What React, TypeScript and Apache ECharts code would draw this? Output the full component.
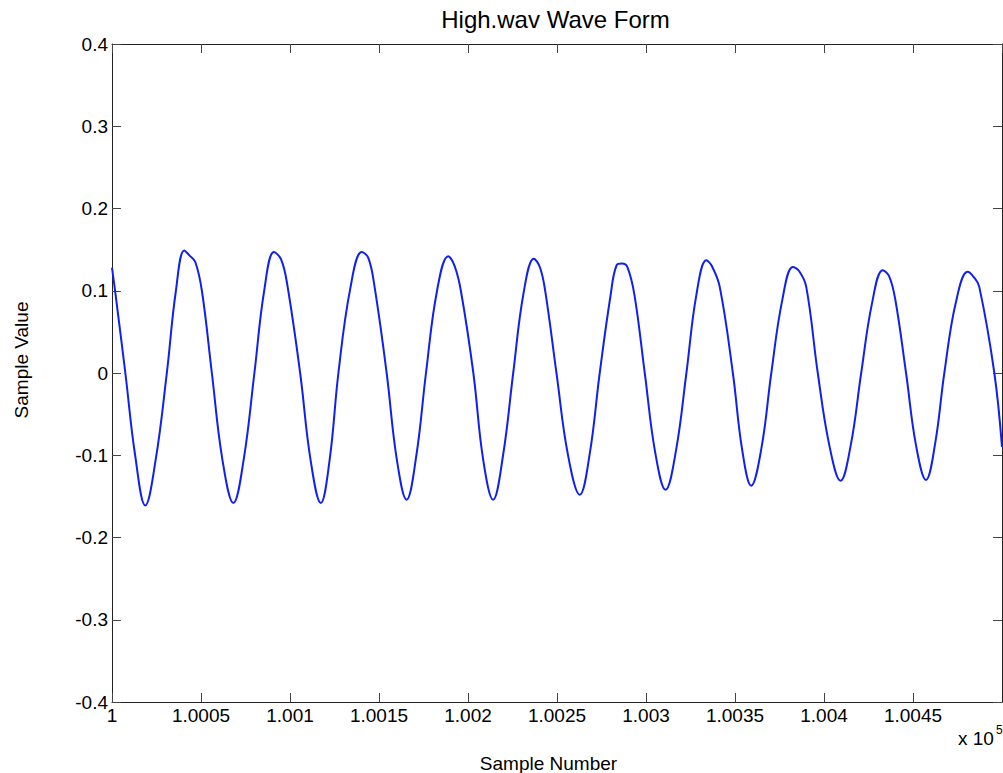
import React, { useEffect, useRef } from "react";
import * as echarts from "echarts";

const START_SAMPLE = 100000;
const END_SAMPLE = 100500;
const X_INTERVAL = 50;
const Y_MIN = -0.4;
const Y_MAX = 0.4;
const Y_INTERVAL = 0.1;

// sample offsets (from 100000) and sample values
const sampleOffsets = [
  0, 1.9, 7.5, 13, 18.7, 24.5, 30.8, 35.9, 40.6, 43.5, 46.8, 50.5, 56.1,
  62, 68.2, 74, 80, 85.5, 91, 95, 98.5, 105.7,
  111.5, 117.3, 122.3, 127.2, 133.8, 140.3, 144, 147.5, 154.3,
  160, 165.5, 171, 176.4, 182.6, 188.9, 192.5, 196, 203,
  208.5, 214.1, 219.7, 225.4, 231.2, 237, 240.5, 243.5, 249.7,
  256.2, 262.8, 268.4, 274, 280, 283.5, 286.5, 289.5, 293.5, 299.3,
  305.2, 311, 316.8, 322.7, 328.3, 333.9, 337, 341.4, 348.8,
  354, 359.1, 364.8, 370.4, 376.5, 382.5, 386, 390, 396.5,
  403, 409.3, 415, 420.9, 427, 433, 436.5, 440, 446.1,
  451.7, 457.3, 462.5, 467.6, 474, 480.7, 484, 487.2, 495.7, 500,
];
const sampleValues = [
  0.128, 0.097, 0, -0.1, -0.161, -0.106, 0, 0.1, 0.149, 0.143, 0.135, 0.1, 0,
  -0.105, -0.158, -0.105, 0, 0.1, 0.147, 0.138, 0.107, 0,
  -0.105, -0.158, -0.105, 0, 0.102, 0.147, 0.14, 0.105, 0,
  -0.105, -0.154, -0.1, 0, 0.1, 0.142, 0.13, 0.1, 0,
  -0.105, -0.154, -0.1, 0, 0.097, 0.139, 0.128, 0.098, 0,
  -0.1, -0.148, -0.098, 0, 0.093, 0.131, 0.133, 0.129, 0.095, 0,
  -0.097, -0.142, -0.095, 0, 0.095, 0.137, 0.13, 0.105, 0,
  -0.093, -0.137, -0.092, 0, 0.088, 0.129, 0.124, 0.105, 0,
  -0.088, -0.131, -0.088, 0, 0.085, 0.125, 0.118, 0.09, 0,
  -0.088, -0.13, -0.085, 0, 0.085, 0.123, 0.117, 0.105, 0, -0.09,
];

const TITLE = "High.wav Wave Form";
const X_NAME = "Sample Number";
const Y_NAME = "Sample Value";
const X_EXP_BASE = "x 10";
const X_EXP = "5";

const FONT = "'Liberation Sans', Arial, sans-serif";
const AXIS_COLOR = "#222";

export default function App() {
  const ref = useRef<HTMLDivElement>(null);
  useEffect(() => {
    if (!ref.current) return;
    const chart = echarts.init(ref.current, undefined, { renderer: "svg" });
    const data = sampleOffsets.map((o, i) => [START_SAMPLE + o, sampleValues[i]]);
    const xLabel = (v: number) =>
      v >= END_SAMPLE ? "" : String(Number((v / 1e5).toFixed(5)));
    const yLabel = (v: number) => String(Number(v.toFixed(1)));
    const axisLine = { show: true, onZero: false, lineStyle: { color: AXIS_COLOR, width: 1 } };
    const axisTick = { show: true, inside: true, length: 9, lineStyle: { color: "#444", width: 1 } };
    const xBase = {
      type: "value" as const,
      min: START_SAMPLE,
      max: END_SAMPLE,
      interval: X_INTERVAL,
      splitLine: { show: false },
      axisLine,
      axisTick,
    };
    const yBase = {
      type: "value" as const,
      min: Y_MIN,
      max: Y_MAX,
      interval: Y_INTERVAL,
      splitLine: { show: false },
      axisLine,
      axisTick,
    };
    chart.setOption({
      animation: false,
      backgroundColor: "#ffffff",
      grid: { left: 112, right: 1, top: 44, bottom: 71, containLabel: false },
      xAxis: [
        {
          ...xBase,
          position: "bottom",
          axisLabel: {
            show: true,
            formatter: xLabel,
            fontFamily: FONT,
            fontSize: 19,
            color: "#000",
            margin: 4,
            showMaxLabel: false,
          },
        },
        { ...xBase, position: "top", axisLabel: { show: false } },
      ],
      yAxis: [
        {
          ...yBase,
          position: "left",
          axisLabel: {
            show: true,
            formatter: yLabel,
            fontFamily: FONT,
            fontSize: 19,
            color: "#000",
            margin: 4,
          },
        },
        { ...yBase, position: "right", axisLabel: { show: false } },
      ],
      series: [
        {
          type: "line",
          data,
          xAxisIndex: 0,
          yAxisIndex: 0,
          showSymbol: false,
          smooth: 0.4,
          lineStyle: { color: "#1020ee", width: 2 },
        },
      ],
      graphic: [
        {
          type: "text",
          x: 555.5,
          y: 19,
          style: {
            text: TITLE,
            font: `24px ${FONT}`,
            fill: "#000",
            textAlign: "center",
            textVerticalAlign: "middle",
          },
        },
        {
          type: "text",
          x: 548.5,
          y: 763,
          style: {
            text: X_NAME,
            font: `19px ${FONT}`,
            fill: "#000",
            textAlign: "center",
            textVerticalAlign: "middle",
          },
        },
        {
          type: "text",
          x: 21,
          y: 360,
          rotation: Math.PI / 2,
          style: {
            text: Y_NAME,
            font: `19px ${FONT}`,
            fill: "#000",
            textAlign: "center",
            textVerticalAlign: "middle",
          },
        },
        {
          type: "text",
          x: 958,
          y: 738,
          style: {
            text: X_EXP_BASE,
            font: `19px ${FONT}`,
            fill: "#000",
            textAlign: "left",
            textVerticalAlign: "middle",
          },
        },
        {
          type: "text",
          x: 996,
          y: 730,
          style: {
            text: X_EXP,
            font: `12px ${FONT}`,
            fill: "#000",
            textAlign: "left",
            textVerticalAlign: "middle",
          },
        },
      ],
    });
    return () => chart.dispose();
  }, []);
  return (
    <div
      ref={ref}
      style={{ position: "fixed", left: 0, top: 0, width: 1003, height: 773, background: "#fff" }}
    />
  );
}
